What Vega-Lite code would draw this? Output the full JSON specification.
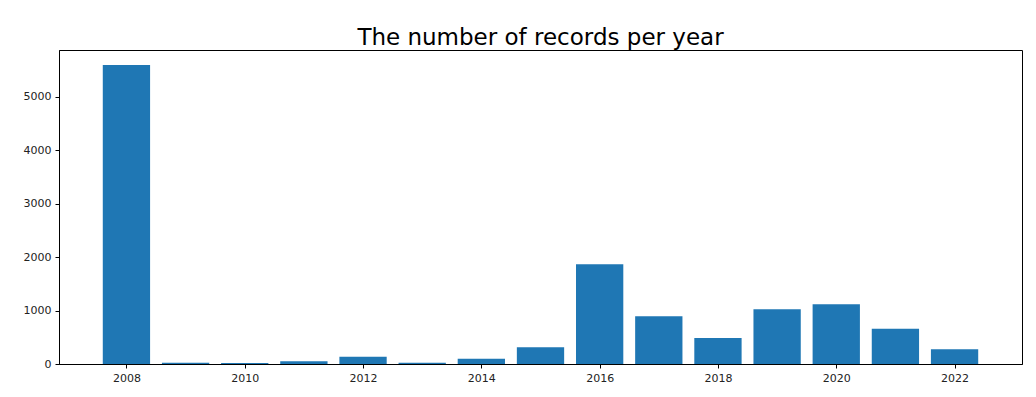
{
  "$schema": "https://vega.github.io/schema/vega-lite/v6.json",
  "autosize": "none",
  "width": 963,
  "height": 314,
  "padding": {"left": 59, "top": 50, "right": 14, "bottom": 33},
  "background": "white",
  "title": {
    "text": "The number of records per year",
    "font": "DejaVu Sans",
    "fontSize": 23,
    "fontWeight": "normal",
    "color": "#000000",
    "anchor": "middle",
    "offset": 0
  },
  "config": {
    "view": {"stroke": "#000000", "strokeWidth": 1},
    "axis": {
      "labelFont": "DejaVu Sans",
      "labelFontSize": 11,
      "labelColor": "#222222",
      "domainColor": "#000000",
      "tickColor": "#000000",
      "tickSize": 4,
      "grid": false,
      "title": null
    }
  },
  "data": {
    "values": [
      {"year": 2008, "count": 5600},
      {"year": 2009, "count": 25},
      {"year": 2010, "count": 20},
      {"year": 2011, "count": 50},
      {"year": 2012, "count": 137},
      {"year": 2013, "count": 25},
      {"year": 2014, "count": 100},
      {"year": 2015, "count": 313},
      {"year": 2016, "count": 1867},
      {"year": 2017, "count": 893},
      {"year": 2018, "count": 487},
      {"year": 2019, "count": 1024},
      {"year": 2020, "count": 1118},
      {"year": 2021, "count": 661},
      {"year": 2022, "count": 275}
    ]
  },
  "mark": {"type": "bar", "color": "#1f77b4", "width": 47.3},
  "encoding": {
    "x": {
      "field": "year",
      "type": "quantitative",
      "scale": {"domain": [2006.86, 2023.14], "nice": false, "zero": false, "padding": 0},
      "axis": {"values": [2008, 2010, 2012, 2014, 2016, 2018, 2020, 2022], "format": "d", "labelPadding": 4}
    },
    "y": {
      "field": "count",
      "type": "quantitative",
      "scale": {"domain": [0, 5880], "nice": false},
      "axis": {"values": [0, 1000, 2000, 3000, 4000, 5000], "format": "d", "labelPadding": 4}
    }
  }
}
